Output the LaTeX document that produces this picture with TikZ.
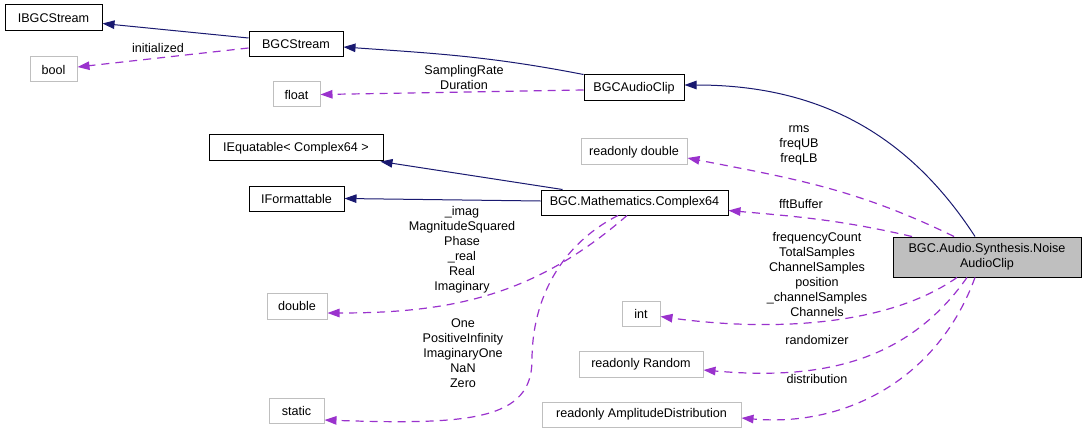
\documentclass[tikz,border=0pt]{standalone}
\usepackage{fontspec}
\setmainfont{Liberation Sans}
\usetikzlibrary{arrows.meta}
\definecolor{navyc}{HTML}{191970}
\definecolor{purp}{HTML}{9A32CD}
\definecolor{greyb}{HTML}{BFBFBF}
\newcommand\dxfont{\fontsize{12.6}{15}\selectfont}
\tikzset{
  cls/.style={draw=black, line width=1pt, fill=white, inner sep=0pt, font=\dxfont},
  extcls/.style={draw=greyb, line width=1pt, fill=white, inner sep=0pt, font=\dxfont},
  focus/.style={draw=black, line width=1pt, fill=greyb, inner sep=0pt, font=\dxfont, align=center},
  lbl/.style={inner sep=0pt, font=\dxfont, align=center},
  inh/.style={draw=navyc, line width=1pt, -{Triangle[length=12pt,width=8.5pt]}},
  usage/.style={draw=purp, line width=1.2pt, dash pattern=on 8pt off 6pt, -{Triangle[length=12pt,width=8.5pt]}},
}
\begin{document}
\begin{tikzpicture}[x=1pt,y=-1pt]
\useasboundingbox (0,0) rectangle (1087,433);
% nodes
\node[cls, minimum width=97pt, minimum height=26pt] (ibgc) at (53.5,18) {IBGCStream};
\node[cls, minimum width=94pt, minimum height=25pt] (bgcstream) at (296,44.5) {BGCStream};
\node[extcls, minimum width=47pt, minimum height=25pt] (bool) at (53.5,69.5) {bool};
\node[extcls, minimum width=47pt, minimum height=25pt] (float) at (296.5,94.5) {float};
\node[cls, minimum width=100pt, minimum height=26pt] (audioclip) at (634,88) {BGCAudioClip};
\node[extcls, minimum width=106pt, minimum height=26pt] (rodouble) at (634,152) {readonly double};
\node[cls, minimum width=187pt, minimum height=25pt] (complex) at (634.5,202.5) {BGC.Mathematics.Complex64};
\node[cls, minimum width=174pt, minimum height=26pt] (iequat) at (296,148) {IEquatable< Complex64 >};
\node[cls, minimum width=95pt, minimum height=25pt] (iformat) at (296.5,198.5) {IFormattable};
\node[extcls, minimum width=60pt, minimum height=26pt] (double) at (297,306) {double};
\node[extcls, minimum width=55pt, minimum height=25pt] (static) at (296.5,410.5) {static};
\node[extcls, minimum width=38pt, minimum height=25pt] (int) at (641,313.5) {int};
\node[extcls, minimum width=124pt, minimum height=26pt] (rorandom) at (641,364) {readonly Random};
\node[extcls, minimum width=199pt, minimum height=25pt] (roamp) at (641.5,414.5) {readonly AmplitudeDistribution};
\node[focus, minimum width=188pt, minimum height=40pt] (noise) at (987,257) {BGC.Audio.Synthesis.Noise\\AudioClip};
% inheritance edges
\draw[inh] ([yshift=6.5pt]bgcstream.west) -- ([yshift=-5.5pt]ibgc.east);
\draw[inh] (audioclip.north west) to[out=169,in=-4] ([yshift=-2.5pt]bgcstream.east);
\draw[inh] ([xshift=-12pt]noise.north) to[out=123,in=0] ([yshift=3pt]audioclip.east);
\draw[inh] ([xshift=-72pt]complex.north) -- ([xshift=-3pt]iequat.south east);
\draw[inh] ([yshift=1.5pt]complex.west) -- (iformat.east);
% usage edges
\draw[usage] ([yshift=-3.5pt]bgcstream.west) -- ([yshift=2.5pt]bool.east);
\draw[usage] ([yshift=-2pt]audioclip.west) -- (float.east);
\draw[usage] ([xshift=-33pt]noise.north) to[out=154,in=-11] ([yshift=-6pt]rodouble.east);
\draw[usage] ([xshift=-75pt]noise.north) to[out=167,in=-5] ([yshift=-8pt]complex.east);
\draw[usage] ([xshift=-7.5pt]complex.south) to[out=-139,in=0] ([yshift=-7pt]double.east);
\draw[usage] ([xshift=-16.5pt]complex.south) .. controls (560,245) and (532,300) .. (532,360) .. controls (532,420) and (470,425) .. ([yshift=-9.5pt]static.east);
\draw[usage] ([xshift=-30pt]noise.south) to[out=-145,in=-8,looseness=0.8] ([yshift=-3pt]int.east);
\draw[usage] ([xshift=-20pt]noise.south) to[out=-125,in=-5] ([yshift=-6pt]rorandom.east);
\draw[usage] ([xshift=-12pt]noise.south) to[out=-110,in=-5] ([yshift=-3.5pt]roamp.east);
% labels
\node[lbl] (linit) at (158,47.7) {initialized};
\node[lbl] (lsamp) at (464,77) {SamplingRate\\Duration};
\node[lbl] (lrms) at (799,145) {rms\\freqUB\\freqLB};
\node[lbl] (lfft) at (801,204) {fftBuffer};
\node[lbl] (ldbl) at (462,249.7) {\_imag\\MagnitudeSquared\\Phase\\\_real\\Real\\Imaginary};
\node[lbl] (lstat) at (463,352.8) {One\\PositiveInfinity\\ImaginaryOne\\NaN\\Zero};
\node[lbl] (lint) at (817,274.5) {frequencyCount\\TotalSamples\\ChannelSamples\\position\\\_channelSamples\\Channels};
\node[lbl] (lrand) at (817,340) {randomizer};
\node[lbl] (ldist) at (817,379) {distribution};
\end{tikzpicture}
\end{document}
